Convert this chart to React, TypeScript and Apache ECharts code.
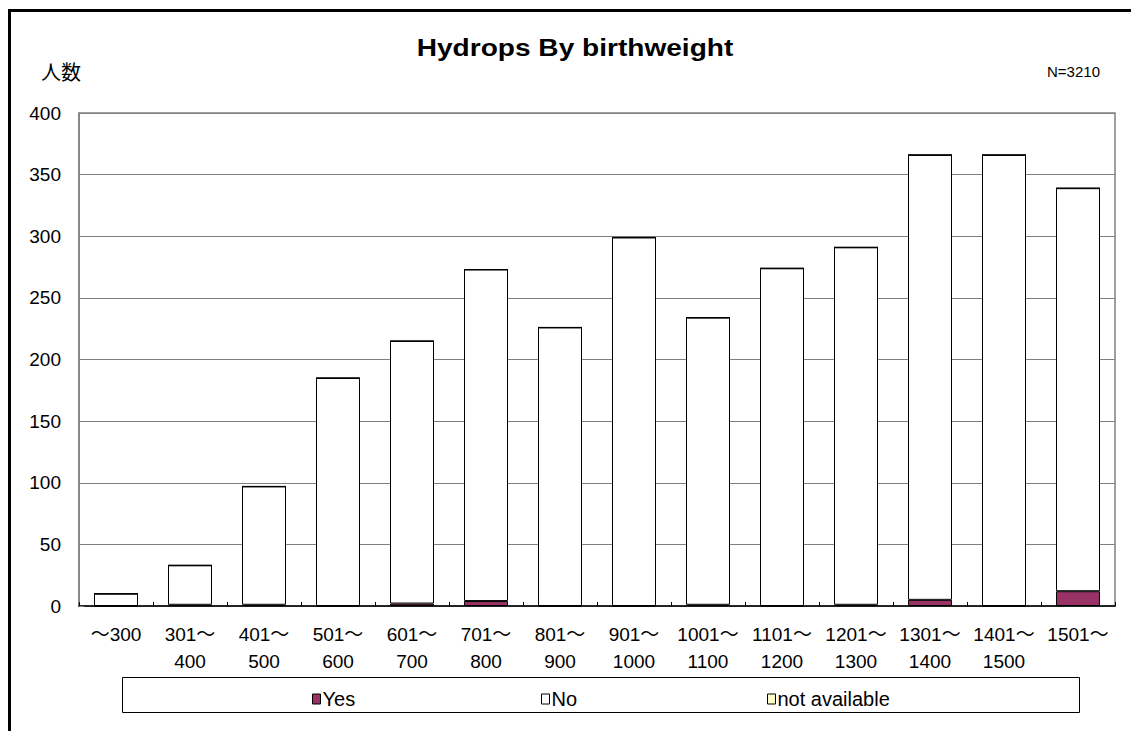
import React, { useEffect, useRef } from "react";
import * as echarts from "echarts";

const categories = [
  "～300", "301～\n400", "401～\n500", "501～\n600", "601～\n700", "701～\n800",
  "801～\n900", "901～\n1000", "1001～\n1100", "1101～\n1200", "1201～\n1300",
  "1301～\n1400", "1401～\n1500", "1501～",
];
const yesValues = [0, 1, 1, 0, 2, 4, 0, 0, 1, 0, 1, 5, 0, 12];
const noValues = [10, 32, 96, 185, 213, 269, 226, 299, 233, 274, 290, 361, 366, 327];
const naValues = [0, 0, 0, 0, 0, 0, 0, 0, 0, 0, 0, 0, 0, 0];
const yTicks = { min: 0, max: 400, interval: 50 };
const seriesNames = ["Yes", "No", "not available"];

const FONT = "'Liberation Sans', Arial, 'Noto Sans CJK JP', sans-serif";

export default function App() {
  const ref = useRef<HTMLDivElement>(null);
  useEffect(() => {
    if (!ref.current) return;
    const chart = echarts.init(ref.current, null, { renderer: "svg" });
    const barStyle = (color: string) => ({
      color,
      borderColor: "#000",
      borderWidth: 1,
    });
    const legendLefts = [307, 536, 762];
    chart.setOption({
      animation: false,
      backgroundColor: "#fff",
      textStyle: { fontFamily: FONT },
      grid: {
        left: 79,
        top: 113,
        right: 16,
        bottom: 125,
        show: true,
        borderColor: "#808080",
        borderWidth: 1.5,
        backgroundColor: "transparent",
      },
      legend: seriesNames.map((name, i) => ({
        data: [name],
        left: legendLefts[i],
        top: 684,
        itemGap: 0,
        itemWidth: 8,
        itemHeight: 10,
        icon: "rect",
        textStyle: { fontSize: 20, color: "#000", fontFamily: FONT, padding: [0, 0, 0, -3] },
        itemStyle: { borderColor: "#000", borderWidth: 1 },
      })),
      xAxis: {
        type: "category",
        data: categories,
        axisLine: { lineStyle: { color: "#000", width: 1.5 } },
        axisTick: { show: true, inside: true, length: 4, lineStyle: { color: "#000" } },
        axisLabel: {
          fontSize: 19,
          color: "#000",
          lineHeight: 27,
          margin: 15,
          interval: 0,
          fontFamily: FONT,
        },
      },
      yAxis: {
        type: "value",
        min: yTicks.min,
        max: yTicks.max,
        interval: yTicks.interval,
        axisLine: { show: true, lineStyle: { color: "#808080", width: 1.5 } },
        axisTick: { show: true, inside: true, length: 5, lineStyle: { color: "#808080" } },
        axisLabel: { fontSize: 19, color: "#000", margin: 18, fontFamily: FONT },
        splitLine: { lineStyle: { color: "#808080", width: 1 } },
      },
      series: [
        {
          name: seriesNames[0],
          type: "bar",
          stack: "t",
          data: yesValues,
          barWidth: 44,
          itemStyle: barStyle("#993366"),
        },
        {
          name: seriesNames[1],
          type: "bar",
          stack: "t",
          data: noValues,
          barWidth: 44,
          itemStyle: barStyle("#ffffff"),
        },
        {
          name: seriesNames[2],
          type: "bar",
          stack: "t",
          data: naValues,
          barWidth: 44,
          itemStyle: barStyle("#ffffcc"),
        },
      ],
      graphic: [
        {
          type: "rect",
          shape: { x: 9.5, y: 10.5, width: 1200, height: 800 },
          style: { fill: "none", stroke: "#000", lineWidth: 3 },
          silent: true,
        },
        {
          type: "rect",
          shape: { x: 122.5, y: 677.5, width: 957, height: 35 },
          style: { fill: "none", stroke: "#000", lineWidth: 1 },
          silent: true,
          z: -1,
        },
        {
          type: "text",
          x: 575,
          y: 48,
          scaleX: 1.17,
          style: {
            text: "Hydrops By birthweight",
            fill: "#000",
            font: `bold 24px ${FONT}`,
            textAlign: "center",
            textVerticalAlign: "middle",
          },
        },
        {
          type: "text",
          x: 41,
          y: 71,
          style: {
            text: "人数",
            fill: "#000",
            font: `20px 'Noto Sans CJK JP', sans-serif`,
            textAlign: "left",
            textVerticalAlign: "middle",
          },
        },
        {
          type: "text",
          x: 1100,
          y: 71,
          style: {
            text: "N=3210",
            fill: "#000",
            font: `15px ${FONT}`,
            textAlign: "right",
            textVerticalAlign: "middle",
          },
        },
      ],
    });
    return () => chart.dispose();
  }, []);
  return (
    <div
      ref={ref}
      style={{ position: "absolute", left: 0, top: 0, width: 1131, height: 731 }}
    />
  );
}
